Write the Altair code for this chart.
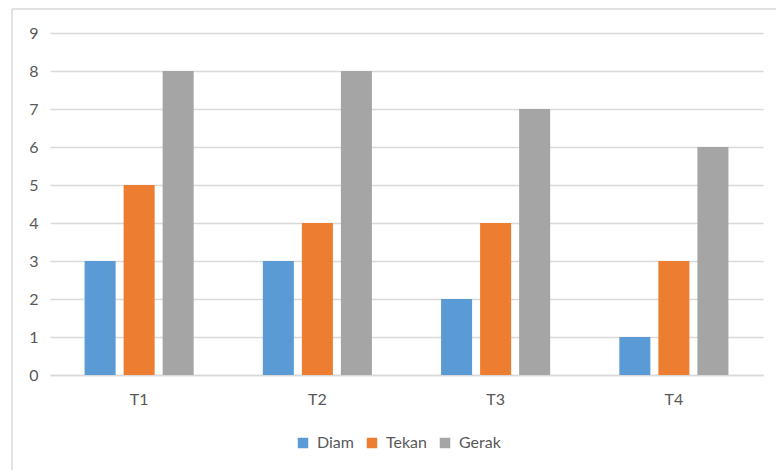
import altair as alt
import pandas as pd

categories = ["T1", "T2", "T3", "T4"]
series = ["Diam", "Tekan", "Gerak"]
diam = [3, 3, 2, 1]
tekan = [5, 4, 4, 3]
gerak = [8, 8, 7, 6]
colors = ["#5B9BD5", "#ED7D31", "#A5A5A5"]

rows = []
for name, vals in zip(series, [diam, tekan, gerak]):
    for c, v in zip(categories, vals):
        rows.append({"cat": c, "series": name, "value": v})
df = pd.DataFrame(rows)

FONT = "Lato"
GRID = "#D9D9D9"
TEXT = "#595959"

bars = alt.Chart(df).mark_bar().encode(
    x=alt.X("cat:N", sort=categories, title=None,
            scale=alt.Scale(paddingInner=0.388, paddingOuter=0.194),
            axis=alt.Axis(labelAngle=0, ticks=False, domainColor=GRID, domainWidth=1.5,
                          labelColor=TEXT, labelFont=FONT, labelFontSize=16,
                          labelPadding=16, grid=False)),
    xOffset=alt.XOffset("series:N", sort=series,
                        scale=alt.Scale(paddingInner=0.205, paddingOuter=0)),
    y=alt.Y("value:Q", title=None,
            scale=alt.Scale(domain=[0, 9], nice=False),
            axis=alt.Axis(values=list(range(10)), ticks=False, domain=False,
                          gridColor=GRID, gridWidth=1.5, labelColor=TEXT,
                          labelFont=FONT, labelFontSize=16, labelPadding=12)),
    color=alt.Color("series:N", sort=series,
                    scale=alt.Scale(domain=series, range=colors),
                    legend=alt.Legend(title=None, orient="none", direction="horizontal",
                                      legendX=245, legendY=402, symbolType="square",
                                      symbolSize=110, symbolStrokeWidth=0,
                                      labelFont=FONT, labelFontSize=16, labelColor=TEXT,
                                      columnPadding=10, symbolOffset=0, labelOffset=6)),
)

frame_df = pd.DataFrame({"a": [0]})
left = alt.Chart(frame_df).mark_rule(color=GRID, strokeWidth=1.5).encode(
    x=alt.value(-38), y=alt.value(-24), y2=alt.value(500))
top = alt.Chart(frame_df).mark_rule(color=GRID, strokeWidth=1.5).encode(
    x=alt.value(-38), x2=alt.value(800), y=alt.value(-24))

chart = alt.layer(left, top, bars).properties(
    width=713, height=342,
    autosize=alt.AutoSizeParams(type="none"),
    padding={"left": 50, "top": 33, "right": 13, "bottom": 95},
    background="white",
).configure_view(stroke=None)

chart.save("out.html", embed_options={"renderer": "svg", "actions": False})
